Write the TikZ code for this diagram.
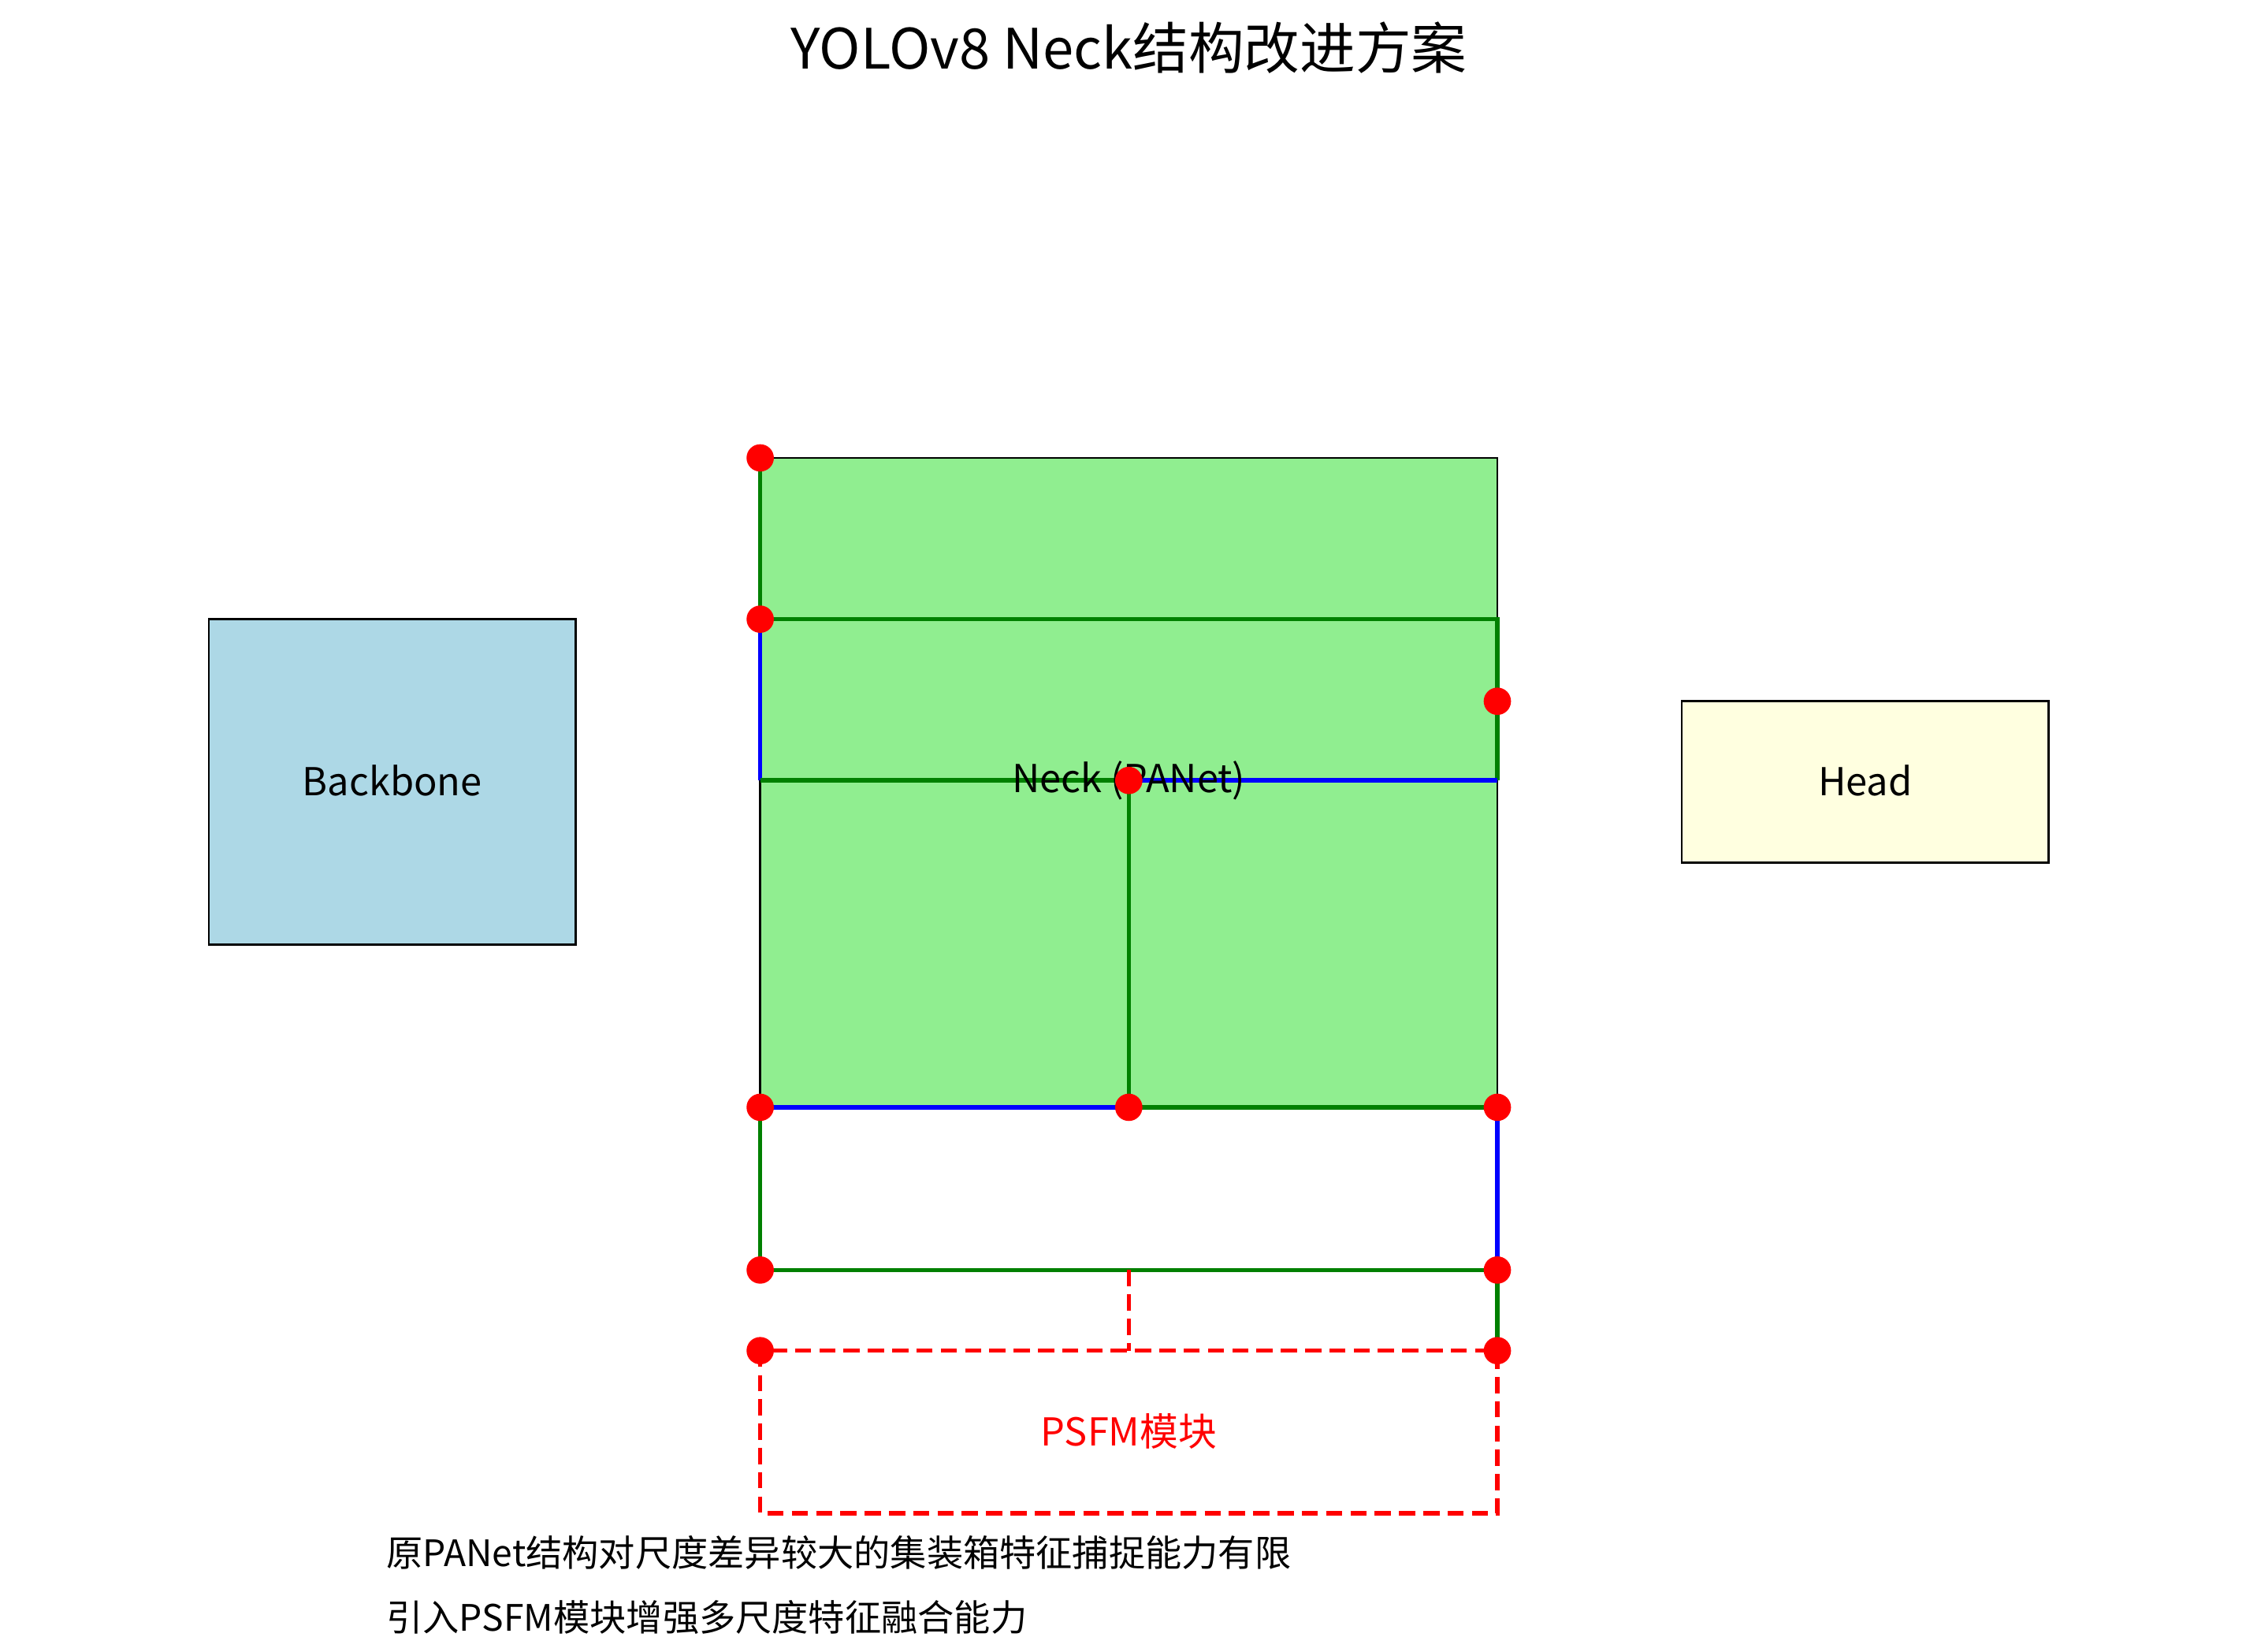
\documentclass[tikz,border=0pt]{standalone}
\usepackage{fontspec}
\setmainfont{Noto Sans CJK SC}
\begin{document}
\begin{tikzpicture}[x=0.05cm,y=-0.05cm,
  box/.style={draw=black,line width=2pt},
  gl/.style={draw={rgb,255:red,0;green,128;blue,0},line width=4.3pt},
  bl/.style={draw=blue,line width=4.3pt},
  rd/.style={draw=red,line width=4.3pt,dashed,dash pattern=on 16pt off 8pt},
  dot/.style={circle,fill=red,inner sep=0pt,minimum size=27pt},
  lbl/.style={font=\fontsize{38}{44}\selectfont}]
\useasboundingbox (0,0) rectangle (1560,1147);
\definecolor{lb}{RGB}{173,216,230}\definecolor{lg}{RGB}{144,238,144}\definecolor{ly}{RGB}{255,255,224}
\node[font=\fontsize{55}{62}\selectfont] (title) at (784,33) {YOLOv8 Neck结构改进方案};
\draw[box,fill=lb] (145,430) rectangle (400,656);
\node[lbl] (bb) at (272.5,542) {Backbone};
\draw[box,fill=lg] (528,318) rectangle (1040,769);
\draw[box,fill=ly] (1168,487) rectangle (1423,599);
\node[lbl] (hd) at (1295.5,542) {Head};
\foreach \n/\x/\y in {a/528/318,b/528/430,c/1040/487,d/784/542,e/528/769,f/784/769,g/1040/769,h/528/882,i/1040/882,j/528/938,k/1040/938,l/528/542,m/1040/542,n/1040/430,o/784/882}
  \coordinate (\n) at (\x,\y);
\draw[gl] (a)--(b);
\draw[gl] (b)--(n)--(m);
\draw[bl] (b)--(l);
\draw[gl] (l)--(d);
\draw[bl] (d)--(m);
\draw[gl] (d)--(f);
\draw[bl] (e)--(f);
\draw[gl] (f)--(g);
\draw[gl] (e)--(h);
\draw[bl] (g)--(i);
\draw[gl] (h)--(i);
\draw[gl] (i)--(k);
\draw[rd] (o)--(784,938);
\draw[rd] (j) rectangle (1040,1051);
\node[lbl] (neck) at (784,542) {Neck (PANet)};
\node[lbl,text=red] (psfm) at (784,994) {PSFM模块};
\foreach \n in {a,b,c,d,e,f,g,h,i,j,k} \node[dot] at (\n) {};
\node[font=\fontsize{36}{40}\selectfont,anchor=west] (t1) at (266,1078) {原PANet结构对尺度差异较大的集装箱特征捕捉能力有限};
\node[font=\fontsize{36}{40}\selectfont,anchor=west] (t2) at (266,1123) {引入PSFM模块增强多尺度特征融合能力};
\end{tikzpicture}
\end{document}
